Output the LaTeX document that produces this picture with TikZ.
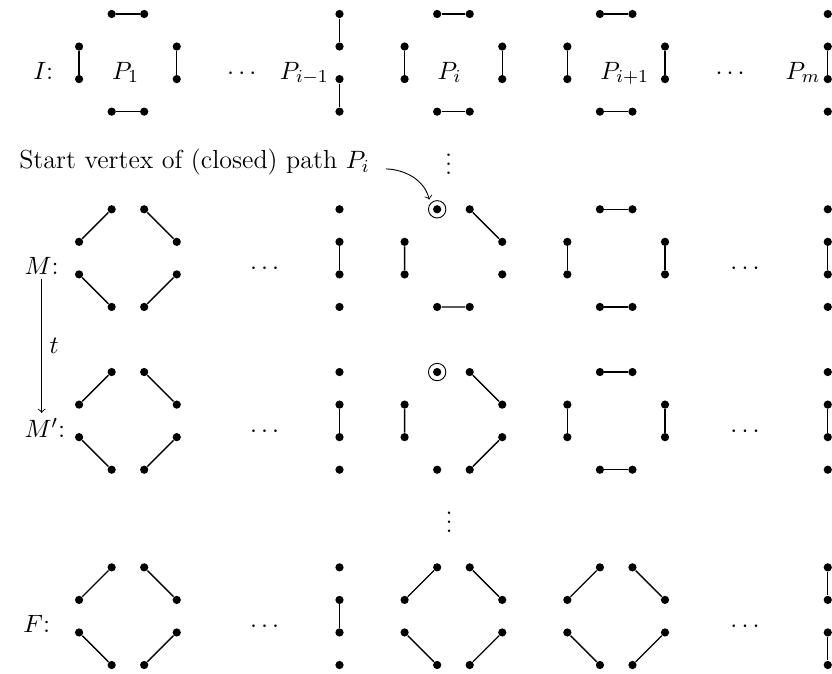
\documentclass[tikz,border=0pt]{standalone}
\usetikzlibrary{arrows, positioning, calc}

\begin{document}
\begin{tikzpicture}[x=0.5cm, y=0.5cm, every node/.style={font=\fontsize{11.4}{13.7}\selectfont}]
        \tikzstyle{vtx} = [circle, fill=black, inner sep=0pt, minimum size=3.6pt]
        \tikzstyle{edge} = [line width=0.6pt]
        \tikzstyle{startv} = [circle, draw=black, inner sep=0pt, minimum size=7.6pt]
        \tikzstyle{lbl} = [anchor=base, inner sep=2pt]
        \tikzstyle{arrow} = [->]

        \useasboundingbox (-2.43,0.43) rectangle (23.13,-20.25);

        % vertices of all rows
        \foreach \r/\y in {I/0, M/-6, Mp/-11, F/-17} {
            \foreach \c/\x in {1/0, i/10, j/15} {
                \node[vtx] (\r-\c-n1) at (\x+1,\y) {};
                \node[vtx] (\r-\c-n2) at (\x+2,\y) {};
                \node[vtx] (\r-\c-e1) at (\x+3,\y-1) {};
                \node[vtx] (\r-\c-e2) at (\x+3,\y-2) {};
                \node[vtx] (\r-\c-s2) at (\x+2,\y-3) {};
                \node[vtx] (\r-\c-s1) at (\x+1,\y-3) {};
                \node[vtx] (\r-\c-w2) at (\x,\y-2) {};
                \node[vtx] (\r-\c-w1) at (\x,\y-1) {};
            }
            \foreach \c/\x in {h/8, m/23}
                \foreach \k in {1,...,4}
                    \node[vtx] (\r-\c-\k) at (\x,\y-\k+1) {};
        }

        % edges
        \foreach \p in {I-1, I-i, I-j, M-j, Mp-j}
            \draw[edge] (\p-n1) -- (\p-n2) (\p-e1) -- (\p-e2) (\p-s1) -- (\p-s2) (\p-w1) -- (\p-w2);
        \foreach \p in {M-1, Mp-1, F-1, F-i, F-j}
            \draw[edge] (\p-n1) -- (\p-w1) (\p-n2) -- (\p-e1) (\p-w2) -- (\p-s1) (\p-e2) -- (\p-s2);
        \foreach \p in {M-h, Mp-h, F-h, I-m, M-m, Mp-m}
            \draw[edge] (\p-2) -- (\p-3);
        \foreach \p in {I-h, F-m}
            \draw[edge] (\p-1) -- (\p-2) (\p-3) -- (\p-4);
        \draw[edge] (M-i-n2) -- (M-i-e1) (M-i-w1) -- (M-i-w2) (M-i-s1) -- (M-i-s2);
        \draw[edge] (Mp-i-n2) -- (Mp-i-e1) (Mp-i-w1) -- (Mp-i-w2) (Mp-i-e2) -- (Mp-i-s2);

        % start vertex
        \node[startv] (svM) at (M-i-n1) {};
        \node[startv] (svMp) at (Mp-i-n1) {};

        % row labels
        \node[lbl] (lblI) at (-1.1,-2) {$I$:};
        \node[lbl] (lblM) at (-1.15,-8) {$M$:};
        \node[lbl] (lblMp) at (-1.05,-13) {$M'$:};
        \node[lbl] (lblF) at (-1.3,-19) {$F$:};
        \node[lbl, anchor=base west, inner sep=0pt] (nP1) at (1,-2) {$P_1$};
        \node[lbl, anchor=base east, inner sep=0pt] (nPh) at (7.68,-2) {$P_{i-1}$};
        \node[lbl, anchor=base west, inner sep=0pt] (nPi) at (11,-2) {$P_i$};
        \node[lbl, anchor=base west, inner sep=0pt] (nPj) at (16,-2) {$P_{i+1}$};
        \node[lbl, anchor=base east, inner sep=0pt] (nPm) at (22.78,-2) {$P_m$};

        % dots
        \node[lbl] (dI1) at (5,-2) {$\cdots$};
        \node[lbl] (dI2) at (20,-2) {$\cdots$};
        \foreach \r/\y in {M/-8, Mp/-13, F/-19} {
            \node[lbl] (d\r1) at (5.7,\y) {$\cdots$};
            \node[lbl] (d\r2) at (20.46,\y) {$\cdots$};
        }
        \node[inner sep=0pt] (vd1) at (11.35,-4.4) {$\vdots$};
        \node[inner sep=0pt] (vd2) at (11.37,-15.4) {$\vdots$};

        % annotation
        \node[lbl, anchor=base east, inner sep=0pt] (start) at (8.94,-4.76) {Start vertex of (closed) path $P_i$};
        \draw[arrow, shorten <=7pt] (start.base east) to[out=0, in=105] ([shift={(-0.04,0.1)}]svM.135);
        \draw[arrow] (lblM.south) -- (lblM.south |- lblMp.north) node[midway, right] {$t$};
    \end{tikzpicture}
\end{document}
